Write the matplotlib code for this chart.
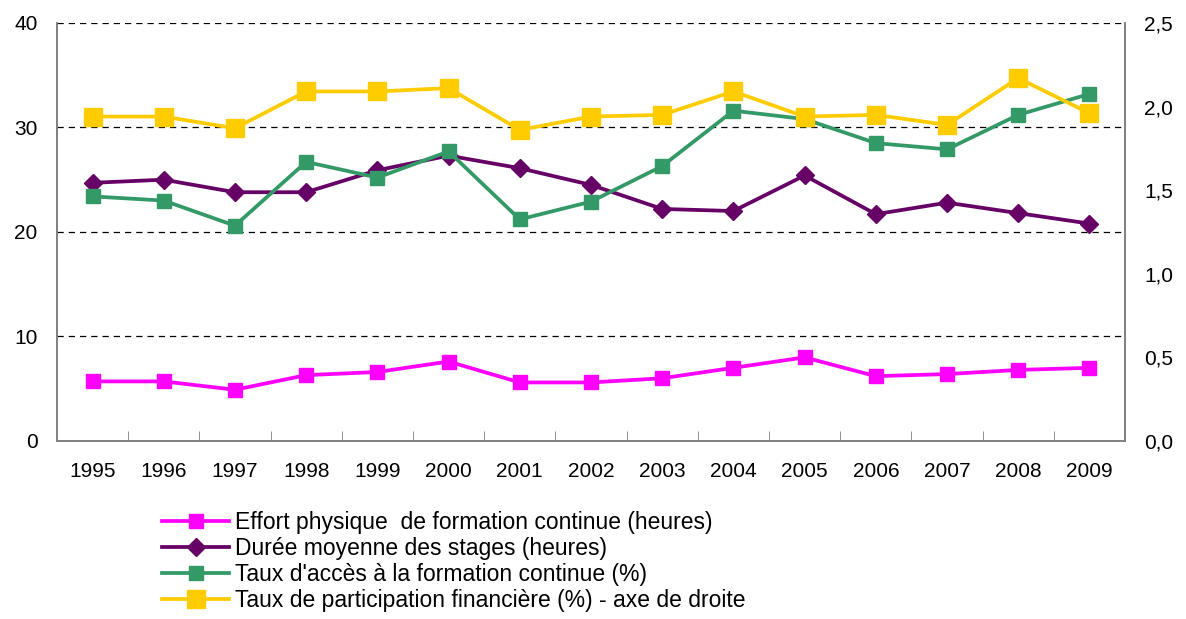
import matplotlib
matplotlib.use("Agg")
import matplotlib.pyplot as plt
from matplotlib.ticker import FixedLocator, FuncFormatter

plt.rcParams['font.family'] = ['Liberation Sans', 'DejaVu Sans']

years = ['1995', '1996', '1997', '1998', '1999', '2000', '2001', '2002',
         '2003', '2004', '2005', '2006', '2007', '2008', '2009']
effort = [5.7, 5.7, 4.9, 6.3, 6.6, 7.6, 5.6, 5.6, 6.0, 7.0, 8.0, 6.2, 6.4, 6.8, 7.0]
duree = [24.7, 25.0, 23.8, 23.8, 25.9, 27.3, 26.1, 24.5, 22.2, 22.0, 25.4, 21.7, 22.8, 21.8, 20.8]
acces = [23.4, 23.0, 20.6, 26.7, 25.2, 27.7, 21.2, 22.9, 26.3, 31.6, 30.8, 28.5, 27.9, 31.2, 33.2]
particip = [1.94, 1.94, 1.87, 2.09, 2.09, 2.11, 1.86, 1.94, 1.95, 2.09, 1.94, 1.95, 1.89, 2.17, 1.96]

labels = ['Effort physique  de formation continue (heures)',
          'Durée moyenne des stages (heures)',
          "Taux d'accès à la formation continue (%)",
          'Taux de participation financière (%) - axe de droite']

x = list(range(len(years)))

fig = plt.figure(figsize=(11.86, 6.19), dpi=100)
ax = fig.add_axes([0.048, 0.2876, 0.9006, 0.6754])
ax2 = ax.twinx()

l1, = ax.plot(x, effort, color='#FF00FF', lw=2.7, marker='s', ms=10.5, zorder=3)
l2, = ax.plot(x, duree, color='#660066', lw=2.7, marker='D', ms=9.5, zorder=4)
l3, = ax.plot(x, acces, color='#339966', lw=2.7, marker='s', ms=10, zorder=5)
l4, = ax2.plot(x, particip, color='#FFCC00', lw=2.7, marker='s', ms=13, zorder=3)

ax.set_xlim(-0.5, len(years) - 0.5)
ax.set_ylim(0, 40)
ax2.set_ylim(0, 2.5)
ax.set_yticks([0, 10, 20, 30, 40])
ax2.set_yticks([0, 0.5, 1.0, 1.5, 2.0, 2.5])
ax2.yaxis.set_major_formatter(FuncFormatter(lambda v, p: f'{v:.1f}'.replace('.', ',')))

ax.set_xticks(x)
ax.set_xticklabels(years)
ax.xaxis.set_minor_locator(FixedLocator([i + 0.5 for i in range(len(years) - 1)]))
ax.tick_params(axis='x', which='major', length=0, pad=15, labelsize=15)
ax.tick_params(axis='x', which='minor', direction='in', length=7, color='#808080')
ax.tick_params(axis='y', length=0, pad=14, labelsize=15)
ax2.tick_params(axis='y', length=0, pad=14, labelsize=15)

for y in [10, 20, 30, 40]:
    ax.axhline(y, color='black', lw=0.9, ls=(0, (5, 4)), zorder=1)

for a in (ax, ax2):
    a.spines['top'].set_visible(False)
    for s in ('left', 'right', 'bottom'):
        a.spines[s].set_color('#808080')
        a.spines[s].set_linewidth(1.2)

fig.legend([l1, l2, l3, l4], labels, loc='upper left',
           bbox_to_anchor=(0.137, 0.174), frameon=False, fontsize=16.5,
           handlelength=2.9, handletextpad=0.25, labelspacing=0.13,
           borderpad=0, borderaxespad=0)

fig.savefig('out.png', dpi=100)
